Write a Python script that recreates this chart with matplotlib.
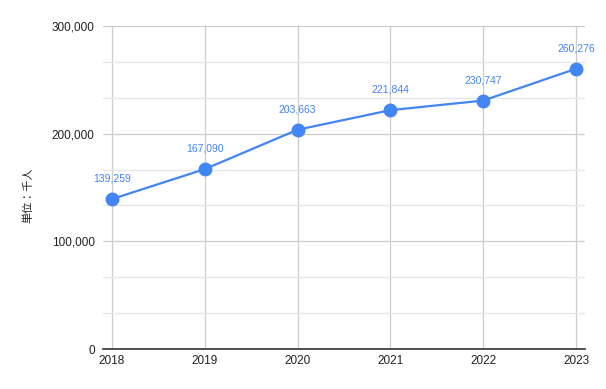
import matplotlib
matplotlib.use("Agg")
import matplotlib.pyplot as plt
from matplotlib.ticker import MultipleLocator, FuncFormatter

years = [2018, 2019, 2020, 2021, 2022, 2023]
values = [139259, 167090, 203663, 221844, 230747, 260276]
ylabel = "単位：千人"

plt.rcParams['font.family'] = ['Liberation Sans', 'Noto Sans CJK JP', 'DejaVu Sans']

fig = plt.figure(figsize=(6.06, 3.89), dpi=100)
ax = fig.add_axes([103/606, 1-349/389, (585-103)/606, (349-26)/389])

blue = '#4285F4'
ax.plot(years, values, color=blue, lw=1.6, marker='o', ms=9, zorder=3, clip_on=False)
for x, v in zip(years, values):
    ax.annotate(f"{v:,}", (x, v), xytext=(0, 11), textcoords='offset points',
                ha='center', va='bottom', fontsize=7.5, color=blue)

ax.set_xlim(2018 - 9/92.8, 2023 + 9/92.8)
ax.set_ylim(0, 300000)
ax.set_xticks(years)
ax.set_xticklabels([str(y) for y in years])
ax.yaxis.set_major_locator(MultipleLocator(100000))
ax.yaxis.set_minor_locator(MultipleLocator(100000/3))
ax.yaxis.set_major_formatter(FuncFormatter(lambda v, p: f"{int(v):,}"))

ax.grid(which='major', axis='both', color='#cccccc', lw=0.9)
ax.grid(which='minor', axis='y', color='#e6e6e6', lw=0.9)
ax.set_axisbelow(True)
for s in ['top', 'right', 'left']:
    ax.spines[s].set_visible(False)
ax.spines['bottom'].set_color('#333333')
ax.spines['bottom'].set_linewidth(1.2)
ax.tick_params(axis='both', which='both', length=0, labelsize=8.5, colors='#222222')
ax.tick_params(axis='y', pad=6)
ax.tick_params(axis='x', pad=4)
ax.set_ylabel(ylabel, fontsize=8, color='#222222',
              family=['Noto Sans CJK JP', 'DejaVu Sans'])
ax.yaxis.set_label_coords(-0.1435, 0.477)

fig.savefig("out.png", dpi=100, facecolor='white')
